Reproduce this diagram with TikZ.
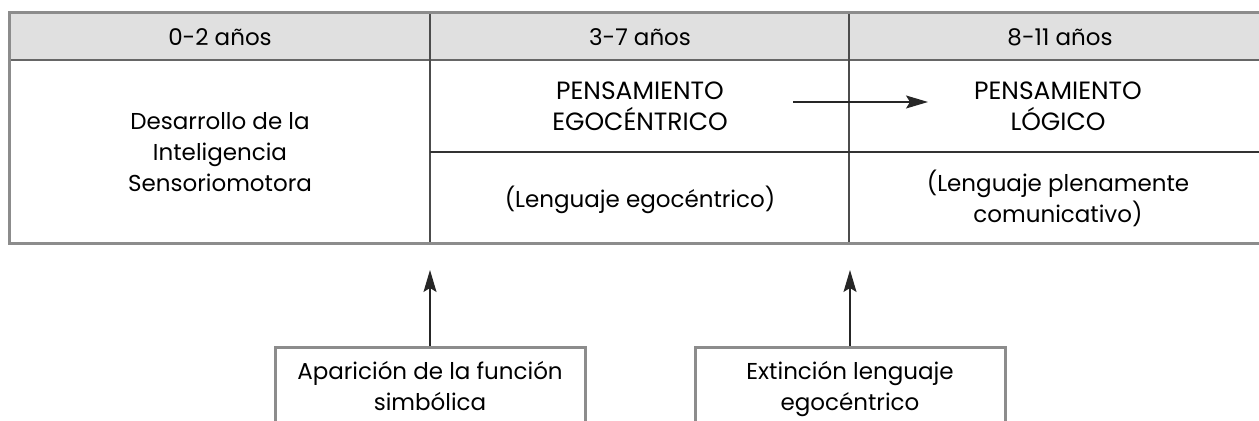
\documentclass[tikz,border=0pt]{standalone}
\usepackage{fontspec}
\setmainfont{Poppins}
\usetikzlibrary{arrows.meta}
\tikzset{%
    txt/.style={align=center,inner sep=0pt,text=black,font=\fontsize{11.5}{15.5}\selectfont},
    evbox/.style={txt,draw=black!45,line width=1.5pt,fill=white,anchor=north,
        minimum width=155pt,inner ysep=7pt},
    rule/.style={line width=1pt,draw=black!70},
    outer/.style={line width=1.5pt,draw=black!45},
    arr/.style={-{Stealth[length=11pt,width=6.5pt,inset=2pt]},line width=0.6pt,black!85}
}
\begin{document}
\begin{tikzpicture}[x=0.5pt,y=-0.5pt]
        \useasboundingbox (0,0) rectangle (1259,421);
        \clip (0,0) rectangle (1259,421);

        % table
        \fill[black!12] (9,13) rectangle (1270,60);
        \draw[rule,draw=black!60] (9,60) -- (1270,60);
        \draw[rule] (430,13) -- (430,244);
        \draw[rule] (849,13) -- (849,244);
        \draw[rule,line width=0.8pt,draw=black!80] (430,152) -- (1270,152);
        \draw[outer] (1270,13) -- (9.5,13) -- (9.5,244) -- (1270,244);

        \node[txt] (h1) at (220,37) {0-2 años};
        \node[txt] (h2) at (640,37) {3-7 años};
        \node[txt] (h3) at (1060,37) {8-11 años};

        \node[txt] (sens) at (220,152) {Desarrollo de la\\Inteligencia\\Sensoriomotora};
        \node[txt,font=\fontsize{12.5}{15.5}\selectfont] (ego) at (640,106) {PENSAMIENTO\\EGOCÉNTRICO};
        \node[txt,font=\fontsize{12.5}{15.5}\selectfont] (logi) at (1058,106) {PENSAMIENTO\\LÓGICO};
        \node[txt] (lego) at (640,200) {(Lenguaje egocéntrico)};
        \node[txt] (lcom) at (1058,198) {(Lenguaje plenamente\\comunicativo)};

        \coordinate (a1) at (793,102);
        \coordinate (a2) at (928,102);
        \draw[arr] (a1) -- (a2);

        % events below
        \node[evbox] (simb) at (430,346) {Aparición de la función\\simbólica\\[8pt]};
        \node[evbox] (ext) at (850,346) {Extinción lenguaje\\egocéntrico\\[8pt]};

        \coordinate (t1) at (430,270);
        \coordinate (t2) at (850,270);
        \draw[arr] (simb) -- (t1);
        \draw[arr] (ext) -- (t2);
    \end{tikzpicture}
\end{document}
